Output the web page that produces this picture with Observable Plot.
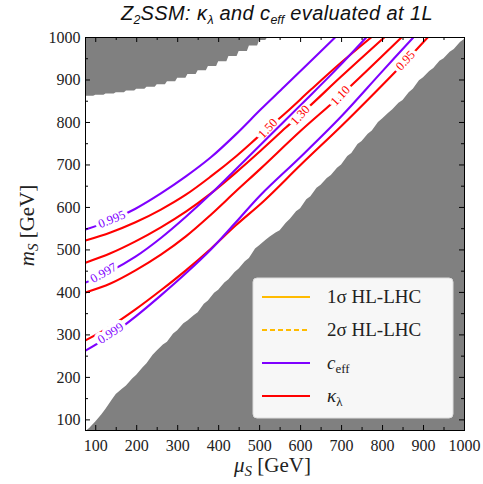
<!DOCTYPE html>
<html><head><meta charset="utf-8">
<script src="https://cdn.jsdelivr.net/npm/d3@7"></script>
<script src="https://cdn.jsdelivr.net/npm/@observablehq/plot@0.6"></script>
<style>
body{margin:0;background:#fff;width:483px;height:484px;overflow:hidden;}
#title{height:28px;position:relative;font-family:"Liberation Sans",Arial,sans-serif;font-style:italic;font-size:20px;letter-spacing:0.4px;color:#111;}
#title span.t{position:absolute;left:277px;transform:translateX(-50%);top:2px;white-space:nowrap;}
#title sub{font-size:12.5px;vertical-align:-4px;line-height:0;letter-spacing:0;}
#chart svg{display:block;}
</style></head><body>
<div id="title"><span class="t">Z<sub>2</sub>SSM: κ<sub>λ</sub> and c<sub>eff</sub> evaluated at 1L</span></div>
<div id="chart"></div>
<script>
// ---------- data ----------
const axisDomain = [75, 1000];
const majorTicks = [100, 200, 300, 400, 500, 600, 700, 800, 900, 1000];
const minorTicks = [150, 250, 350, 450, 550, 650, 750, 850, 950];

// excluded (gray) region, upper left: boundary m_S as function of mu_S
const upperMu = [75,95,100,120,125,145,150,170,175,195,200,220,225,245,250,270,275,295,300,320,325,345,350,370,375,395,400,420,425,445,450,470,475,495,500,515,520];
const upperM  = [862,862,864,864,867,867,870,870,874,874,878,878,883,883,889,889,896,896,904,904,913,913,922,922,932,932,943,943,955,955,967,967,980,980,993,993,1000];
// excluded (gray) region, lower right
const lowerMu = [75,85,100,115,125,140,150,165,175,190,200,215,225,240,250,265,275,290,300,315,325,340,350,365,375,390,400,415,425,440,450,465,475,490,500,515,525,540,550,565,575,590,600,615,625,640,650,665,675,690,700,715,725,740,750,765,775,790,800,815,825,840,850,865,875,890,900,915,925,940,950,965,975,990,1000];
const lowerM  = [72,80,95,112,125,146,160,172,180,196,205,222,232,252,262,276,283,302,310,326,333,345,352,372,380,398,405,422,430,447,455,472,480,502,510,522,530,540,545,563,572,590,597,618,625,645,652,668,675,692,700,720,727,748,755,772,780,800,808,822,830,845,852,870,878,898,905,920,927,944,950,965,972,988,995];

// c_eff contours [mu_S, m_S]
const ceff0995 = [[75,548],[136,569],[197,597],[259,633],[320,673],[381,718],[442,772],[503,831],[560,884],[620,940],[684,1000]];
const ceff0997 = [[75,423],[136,450],[197,484],[259,528],[320,578],[381,632],[442,690],[503,748],[601,842],[687,925],[760,1000]];
const ceff0999 = [[75,263],[136,299],[197,343],[259,393],[320,445],[381,501],[442,565],[503,630],[601,720],[699,814],[797,918],[875,1000]];
// kappa_lambda contours
const kap150 = [[75,522],[136,541],[197,565],[259,595],[320,630],[381,673],[442,720],[503,772],[564,823],[626,878],[699,941],[772,1000]];
const kap130 = [[75,470],[136,492],[197,520],[259,553],[320,590],[381,633],[442,682],[503,734],[564,788],[626,842],[699,908],[804,1000]];
const kap110 = [[75,400],[136,421],[197,452],[259,489],[320,532],[381,583],[442,638],[503,692],[601,781],[697,863],[846,1000]];
const kap095 = [[75,287],[136,320],[197,360],[259,405],[320,452],[381,503],[442,558],[511,616],[601,701],[699,791],[772,861],[856,944],[910,1000]];

// inline contour labels
const ceffLabels = ["0.995", "0.997", "0.999"];
const ceffLabelMu = [139, 119, 136];
const ceffLabelM = [572, 446, 304];
const ceffLabelAngle = [-22, -30, -33];
const kapLabels = ["1.50", "1.30", "1.10", "0.95"];
const kapLabelMu = [520, 599, 697, 856];
const kapLabelM = [786, 817, 863, 946];
const kapLabelAngle = [-47, -47, -47, -47];

const legendLabels = ["1σ HL-LHC", "2σ HL-LHC", "c_eff", "κ_λ"];

// ---------- drawing ----------
const PURPLE = "#7f00ff", RED = "#ff0000", GOLD = "#ffbb00", GRAY = "#808080";
const W = 483, H = 456, mL = 85, mR = 19, mT = 9, mB = 54;
const innerW = W - mL - mR, innerH = H - mT - mB;

const upper = upperMu.map((mu, i) => ({mu, m: upperM[i]}));
const lower = lowerMu.map((mu, i) => ({mu, m: lowerM[i]}));
const ceffLab = ceffLabels.map((t, i) => ({t, mu: ceffLabelMu[i], m: ceffLabelM[i], a: ceffLabelAngle[i]}));
const kapLab = kapLabels.map((t, i) => ({t, mu: kapLabelMu[i], m: kapLabelM[i], a: kapLabelAngle[i]}));

const lineOpts = (c) => ({x: d => d[0], y: d => d[1], stroke: c, strokeWidth: 2.1, curve: "catmull-rom", clip: true});
const labelMarks = (data, c) => data.map(d => Plot.text([d], {x: "mu", y: "m", text: "t", rotate: d.a, fill: c, stroke: "white", strokeWidth: 7, fontSize: 12.5, fontFamily: "'Liberation Serif', serif"}));
const fmt = d => String(d);

const plot = Plot.plot({
  width: W, height: H, marginLeft: mL, marginRight: mR, marginTop: mT, marginBottom: mB,
  x: {domain: axisDomain},
  y: {domain: axisDomain},
  style: {fontFamily: "'Liberation Serif', serif", fontSize: "16px", color: "black", background: "white", overflow: "visible"},
  marks: [
    Plot.areaY(upper, {x: "mu", y1: "m", y2: axisDomain[1], fill: GRAY, curve: "linear"}),
    Plot.areaY(lower, {x: "mu", y1: axisDomain[0], y2: "m", fill: GRAY, curve: "linear"}),
    Plot.line(kap150, lineOpts(RED)),
    Plot.line(kap130, lineOpts(RED)),
    Plot.line(kap110, lineOpts(RED)),
    Plot.line(kap095, lineOpts(RED)),
    ...labelMarks(kapLab, RED),
    Plot.line(ceff0995, lineOpts(PURPLE)),
    Plot.line(ceff0997, lineOpts(PURPLE)),
    Plot.line(ceff0999, lineOpts(PURPLE)),
    ...labelMarks(ceffLab, PURPLE),
    Plot.frame({stroke: "black", strokeWidth: 1}),
    Plot.axisX(majorTicks, {tickSize: 0, tickPadding: 9, label: null, fill: "#222", tickFormat: fmt}),
    Plot.axisY(majorTicks, {tickSize: 0, tickPadding: 5, label: null, fill: "#222", tickFormat: fmt}),
    Plot.ruleX(majorTicks, {insetTop: innerH - 5, stroke: "black"}),
    Plot.ruleX(majorTicks, {insetBottom: innerH - 5, stroke: "black"}),
    Plot.ruleX(minorTicks, {insetTop: innerH - 3, stroke: "black"}),
    Plot.ruleX(minorTicks, {insetBottom: innerH - 3, stroke: "black"}),
    Plot.ruleY(majorTicks, {insetRight: innerW - 5, stroke: "black"}),
    Plot.ruleY(majorTicks, {insetLeft: innerW - 5, stroke: "black"}),
    Plot.ruleY(minorTicks, {insetRight: innerW - 3, stroke: "black"}),
    Plot.ruleY(minorTicks, {insetLeft: innerW - 3, stroke: "black"})
  ]
});
document.getElementById("chart").appendChild(plot);

// axis titles with sub/italics
const svg = d3.select(plot);
const serif = "'Liberation Serif', serif";
const xl = svg.append("text").attr("x", mL + innerW / 2 - 2).attr("y", H - 12)
  .attr("text-anchor", "middle").attr("font-family", serif).attr("font-size", 21).attr("fill", "#222");
xl.append("tspan").attr("font-style", "italic").text("μ");
xl.append("tspan").attr("font-style", "italic").attr("font-size", 15).attr("dy", 4).text("S");
xl.append("tspan").attr("dy", -4).text(" [GeV]");

const yl = svg.append("text").attr("transform", `translate(34,${mT + innerH / 2 - 8}) rotate(-90)`)
  .attr("text-anchor", "middle").attr("font-family", serif).attr("font-size", 21).attr("fill", "#222");
yl.append("tspan").attr("font-style", "italic").text("m");
yl.append("tspan").attr("font-style", "italic").attr("font-size", 15).attr("dy", 4).text("S");
yl.append("tspan").attr("dy", -4).text(" [GeV]");

// legend (inside frame, lower right)
const lg = svg.append("g").attr("transform", `translate(${mL + innerW - 11 - 200},${mT + innerH - 12 - 140})`);
lg.append("rect").attr("width", 200).attr("height", 140).attr("rx", 4)
  .attr("fill", "#f7f7f7").attr("stroke", "#dddddd").attr("stroke-width", 1);
const legendStyles = [
  {c: GOLD, dash: null}, {c: GOLD, dash: "5,3"}, {c: PURPLE, dash: null}, {c: RED, dash: null}
];
legendLabels.forEach((lab, i) => {
  const y = 19 + i * 33;
  lg.append("line").attr("x1", 9).attr("x2", 57).attr("y1", y).attr("y2", y)
    .attr("stroke", legendStyles[i].c).attr("stroke-width", 2)
    .attr("stroke-dasharray", legendStyles[i].dash);
  const t = lg.append("text").attr("x", 74).attr("y", y + 6).attr("font-family", serif)
    .attr("text-anchor", "start").attr("font-size", 19).attr("fill", "#222");
  const parts = lab.split("_");
  if (parts.length === 1) {
    t.text(lab);
  } else {
    t.append("tspan").attr("font-style", "italic").text(parts[0]);
    t.append("tspan").attr("font-size", 13).attr("dy", 4).text(parts[1]);
  }
});
</script>
</body></html>
